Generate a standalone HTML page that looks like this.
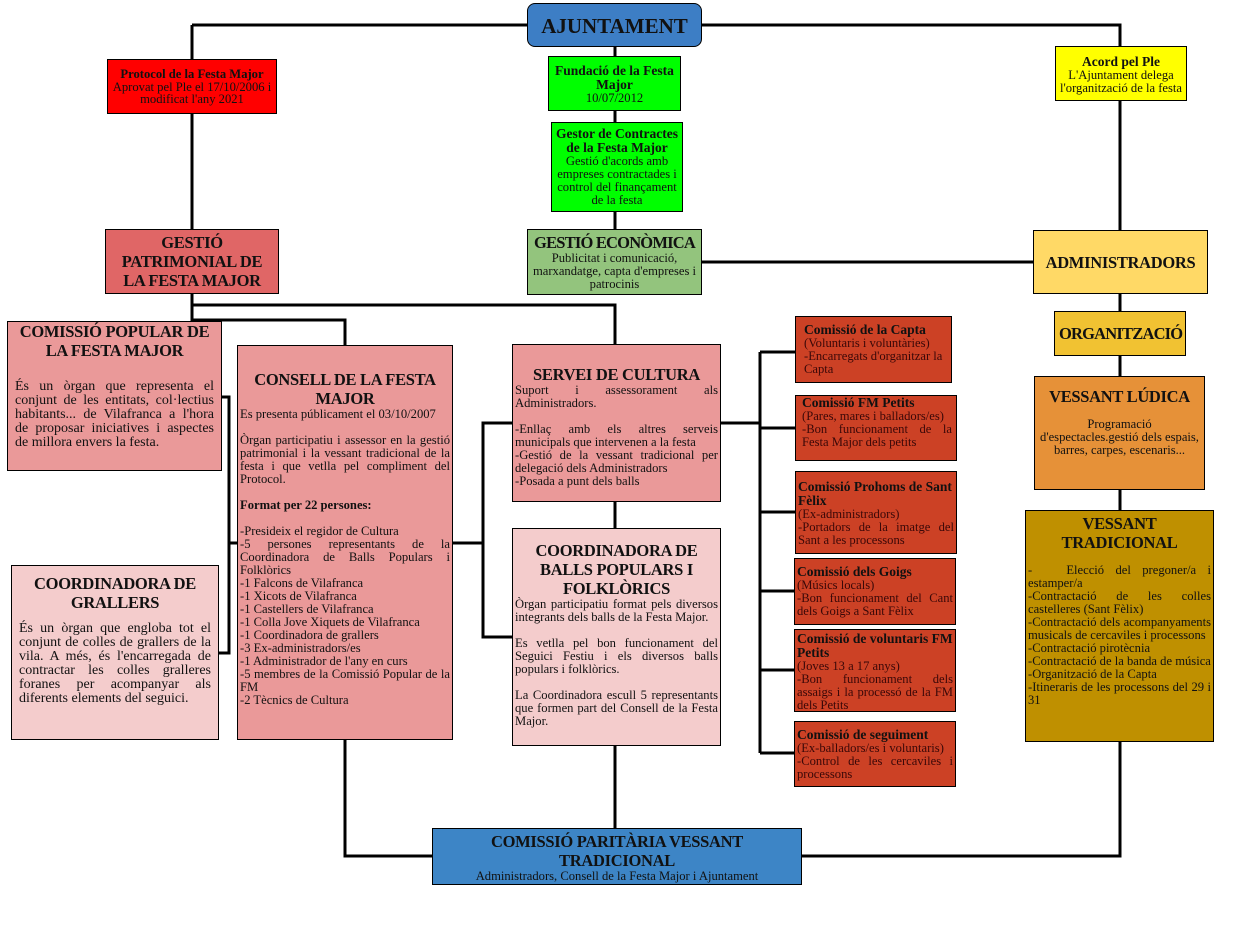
<!DOCTYPE html>
<html><head><meta charset="utf-8"><style>
body{margin:0;width:1234px;height:944px;background:#fff;position:relative;font-family:"Liberation Serif",serif;color:#111;overflow:hidden}
.b{position:absolute;box-sizing:border-box;border:1px solid #000;font-size:12.6px;line-height:13px;padding:2px 4px}
.c{text-align:center}
.j{text-align:justify}
.t{font-weight:bold;font-size:16.5px;line-height:19px;text-align:center;letter-spacing:-0.3px}
svg{position:absolute;left:0;top:0}
.r{background:#cc4125;color:#3a0808;padding:6px 4px 2px 8px}
.r b{color:#111;font-size:13.5px}
</style></head><body>
<svg width="1234" height="944"><g stroke="#000" stroke-width="3" fill="none">
<path d="M192,25H1120V230M192,25V229M615,47V229M702,262H1033M1120,294V856H802M192,294V321M192,305H615V344M192,320H345V345M222,397H229V653H219M229,543H237M452,543H483M512,423H483V637H512M615,502V528M615,746V828M345,740V856H432M721,423H760M760,352V753M760,352H795M760,428H795M760,512H795M760,591H794M760,670H794M760,753H794"/>
</g></svg>
<div class="b c" style="left:527px;top:3px;width:175px;height:44px;background:#3d7ec5;border-radius:8px;font-size:21px;font-weight:bold;line-height:40px">AJUNTAMENT</div>
<div class="b c" style="left:107px;top:59px;width:170px;height:55px;background:#ff0000;padding-top:8px;line-height:12.5px"><b>Protocol de la Festa Major</b><br>Aprovat pel Ple el 17/10/2006 i modificat l'any 2021</div>
<div class="b c" style="left:548px;top:56px;width:133px;height:55px;background:#00ff00;padding-top:7px;line-height:13px"><b style="font-size:13.5px">Fundació de la Festa Major</b><br>10/07/2012</div>
<div class="b c" style="left:551px;top:122px;width:132px;height:90px;background:#00ff00;line-height:13px;padding:4px 2px"><b style="font-size:13.5px">Gestor de Contractes de la Festa Major</b><br>Gestió d'acords amb empreses contractades i control del finançament de la festa</div>
<div class="b c" style="left:1055px;top:46px;width:132px;height:55px;background:#ffff00;padding-top:8px;line-height:13px"><b style="font-size:13.5px">Acord pel Ple</b><br>L'Ajuntament delega l'organització de la festa</div>
<div class="b c t" style="left:105px;top:229px;width:174px;height:65px;background:#e06666;padding-top:3px">GESTIÓ PATRIMONIAL DE LA FESTA MAJOR</div>
<div class="b c" style="left:527px;top:229px;width:175px;height:66px;background:#93c47d;line-height:13px;padding:3px 2px"><div class="t" style="letter-spacing:-0.8px;white-space:nowrap">GESTIÓ ECONÒMICA</div>Publicitat i comunicació, marxandatge, capta d'empreses i patrocinis</div>
<div class="b t" style="left:1033px;top:230px;width:175px;height:64px;background:#ffd966;line-height:60px">ADMINISTRADORS</div>
<div class="b t" style="left:1054px;top:311px;width:132px;height:45px;background:#f1c232;line-height:40px;letter-spacing:-0.8px">ORGANITZACIÓ</div>
<div class="b c" style="left:1034px;top:376px;width:171px;height:114px;background:#e69138;padding-top:10px"><div class="t">VESSANT LÚDICA</div><div style="height:12px"></div>Programació d'espectacles.gestió dels espais, barres, carpes, escenaris...</div>
<div class="b j" style="left:1025px;top:510px;width:189px;height:232px;background:#bf9000;padding:3px 2px"><div class="t">VESSANT TRADICIONAL</div><div style="height:12px"></div>- &nbsp; Elecció del pregoner/a i estamper/a<br>-Contractació de les colles castelleres (Sant Fèlix)<br>-Contractació dels acompanyaments musicals de cercaviles i processons<br>-Contractació pirotècnia<br>-Contractació de la banda de música<br>-Organització de la Capta<br>-Itineraris de les processons del 29 i 31</div>
<div class="b j" style="left:7px;top:321px;width:215px;height:150px;background:#ea9999;padding:0 7px;font-size:14px;line-height:14px"><div class="t">COMISSIÓ POPULAR DE LA FESTA MAJOR</div><div style="height:20px"></div>És un òrgan que representa el conjunt de les entitats, col·lectius habitants... de Vilafranca a l'hora de proposar iniciatives i aspectes de millora envers la festa.</div>
<div class="b j" style="left:11px;top:565px;width:208px;height:175px;background:#f4cccc;padding:8px 7px;font-size:14px;line-height:14px"><div class="t">COORDINADORA DE GRALLERS</div><div style="height:10px"></div>És un òrgan que engloba tot el conjunt de colles de grallers de la vila. A més, és l'encarregada de contractar les colles gralleres foranes per acompanyar als diferents elements del seguici.</div>
<div class="b j" style="left:237px;top:345px;width:216px;height:395px;background:#ea9999;padding:24px 2px 2px 2px"><div class="t">CONSELL DE LA FESTA MAJOR</div>Es presenta públicament el 03/10/2007<br><br>Òrgan participatiu i assessor en la gestió patrimonial i la vessant tradicional de la festa i que vetlla pel compliment del Protocol.<br><br><b>Format per 22 persones:</b><br><br>-Presideix el regidor de Cultura<br>-5 persones representants de la Coordinadora de Balls Populars i Folklòrics<br>-1 Falcons de Vilafranca<br>-1 Xicots de Vilafranca<br>-1 Castellers de Vilafranca<br>-1 Colla Jove Xiquets de Vilafranca<br>-1 Coordinadora de grallers<br>-3 Ex-administradors/es<br>-1 Administrador de l'any en curs<br>-5 membres de la Comissió Popular de la FM<br>-2 Tècnics de Cultura</div>
<div class="b j" style="left:512px;top:344px;width:209px;height:158px;background:#ea9999;padding:20px 2px 2px 2px"><div class="t">SERVEI DE CULTURA</div>Suport i assessorament als Administradors.<br><br>-Enllaç amb els altres serveis municipals que intervenen a la festa<br>-Gestió de la vessant tradicional per delegació dels Administradors<br>-Posada a punt dels balls</div>
<div class="b j" style="left:512px;top:528px;width:209px;height:218px;background:#f4cccc;padding:12px 2px 2px 2px"><div class="t">COORDINADORA DE BALLS POPULARS I FOLKLÒRICS</div>Òrgan participatiu format pels diversos integrants dels balls de la Festa Major.<br><br>Es vetlla pel bon funcionament del Seguici Festiu i els diversos balls populars i folklòrics.<br><br>La Coordinadora escull 5 representants que formen part del Consell de la Festa Major.</div>
<div class="b r" style="left:795px;top:316px;width:157px;height:67px"><b>Comissió de la Capta</b><br>(Voluntaris i voluntàries)<br>-Encarregats d'organitzar la Capta</div>
<div class="b r j" style="left:795px;top:395px;width:162px;height:66px;padding:0 4px 0 6px"><b>Comissió FM Petits</b><br>(Pares, mares i balladors/es)<br>-Bon funcionament de la Festa Major dels petits</div>
<div class="b r" style="left:795px;top:471px;width:162px;height:83px;padding:8px 2px 0 2px"><b>Comissió Prohoms de Sant Fèlix</b><br>(Ex-administradors)<br><div class="j">-Portadors de la imatge del Sant a les processons</div></div>
<div class="b r j" style="left:794px;top:558px;width:162px;height:67px;padding:6px 2px 0 2px"><b>Comissió dels Goigs</b><br>(Músics locals)<br>-Bon funcionament del Cant dels Goigs a Sant Fèlix</div>
<div class="b r" style="left:794px;top:629px;width:162px;height:83px;padding:2px 2px 0 2px"><b>Comissió de voluntaris FM Petits</b><br>(Joves 13 a 17 anys)<br><div class="j">-Bon funcionament dels assaigs i la processó de la FM dels Petits</div></div>
<div class="b r j" style="left:794px;top:721px;width:162px;height:66px;padding:6px 2px 0 2px"><b>Comissió de seguiment</b><br>(Ex-balladors/es i voluntaris)<br>-Control de les cercaviles i processons</div>
<div class="b c" style="left:432px;top:828px;width:370px;height:57px;background:#3d85c6;padding-top:3px;line-height:13px"><div class="t">COMISSIÓ PARITÀRIA VESSANT TRADICIONAL</div>Administradors, Consell de la Festa Major i Ajuntament</div>
</body></html>
